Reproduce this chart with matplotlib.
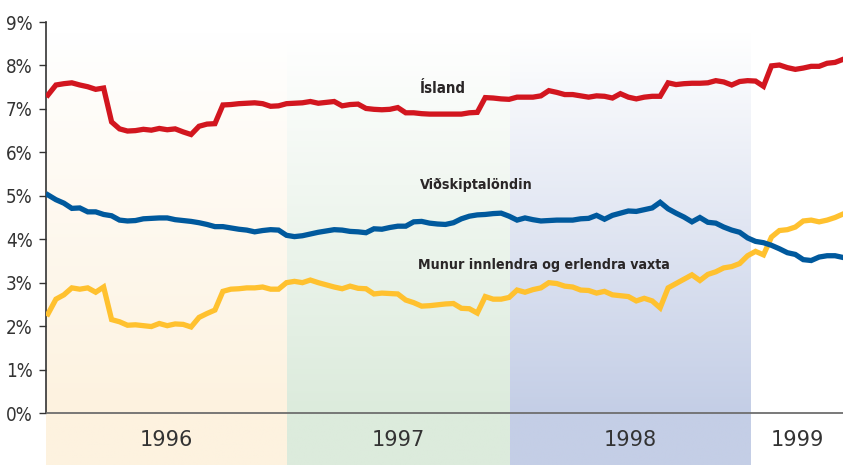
import numpy as np
import matplotlib
matplotlib.use("Agg")
import matplotlib.pyplot as plt
from matplotlib import font_manager as fm
from matplotlib.colors import to_rgb

# ---------------- data (weekly-ish samples, index 0..100) ----------------
island = [7.32, 7.55, 7.58, 7.60, 7.55, 7.51, 7.45, 7.48, 6.70, 6.54,
          6.49, 6.50, 6.53, 6.51, 6.55, 6.52, 6.54, 6.47, 6.41, 6.60,
          6.65, 6.66, 7.09, 7.10, 7.12, 7.13, 7.14, 7.12, 7.06, 7.07,
          7.12, 7.13, 7.14, 7.17, 7.13, 7.15, 7.17, 7.07, 7.10, 7.11,
          7.01, 6.99, 6.98, 6.99, 7.03, 6.91, 6.91, 6.89, 6.88, 6.88,
          6.88, 6.88, 6.88, 6.91, 6.92, 7.26, 7.25, 7.23, 7.22, 7.27,
          7.27, 7.27, 7.30, 7.42, 7.38, 7.33, 7.33, 7.30, 7.27, 7.30,
          7.29, 7.25, 7.35, 7.27, 7.23, 7.27, 7.29, 7.29, 7.60, 7.56,
          7.58, 7.59, 7.59, 7.60, 7.65, 7.62, 7.55, 7.63, 7.65, 7.64,
          7.52, 7.99, 8.01, 7.95, 7.91, 7.94, 7.98, 7.98, 8.05, 8.07,
          8.14]

vidskiptalond = [5.02, 4.91, 4.83, 4.71, 4.72, 4.63, 4.63, 4.57, 4.54, 4.44,
                 4.42, 4.43, 4.47, 4.48, 4.49, 4.49, 4.45, 4.43, 4.41, 4.38,
                 4.34, 4.29, 4.29, 4.26, 4.23, 4.21, 4.17, 4.20, 4.22, 4.21,
                 4.09, 4.06, 4.08, 4.12, 4.16, 4.19, 4.22, 4.21, 4.18, 4.17,
                 4.15, 4.24, 4.23, 4.27, 4.30, 4.30, 4.40, 4.41, 4.37, 4.35,
                 4.34, 4.38, 4.47, 4.53, 4.56, 4.57, 4.59, 4.60, 4.53, 4.44,
                 4.49, 4.45, 4.42, 4.43, 4.44, 4.44, 4.44, 4.47, 4.48, 4.55,
                 4.46, 4.55, 4.60, 4.65, 4.64, 4.68, 4.72, 4.85, 4.70, 4.60,
                 4.51, 4.40, 4.50, 4.39, 4.37, 4.28, 4.21, 4.16, 4.03, 3.95,
                 3.92, 3.86, 3.78, 3.69, 3.65, 3.53, 3.51, 3.59, 3.62, 3.62,
                 3.58]

munur = [2.28, 2.62, 2.72, 2.88, 2.85, 2.88, 2.78, 2.90, 2.15, 2.10,
         2.02, 2.03, 2.01, 1.99, 2.06, 2.01, 2.05, 2.04, 1.98, 2.20,
         2.29, 2.37, 2.80, 2.85, 2.86, 2.88, 2.88, 2.90, 2.85, 2.85,
         3.00, 3.03, 3.00, 3.06, 3.00, 2.95, 2.90, 2.86, 2.92, 2.87,
         2.86, 2.74, 2.76, 2.75, 2.74, 2.60, 2.54, 2.46, 2.47, 2.49,
         2.51, 2.52, 2.41, 2.40, 2.30, 2.68, 2.62, 2.62, 2.66, 2.83,
         2.78, 2.84, 2.88, 3.00, 2.98, 2.92, 2.90, 2.83, 2.82, 2.76,
         2.80, 2.72, 2.70, 2.68, 2.58, 2.64, 2.58, 2.42, 2.88, 2.98,
         3.08, 3.18, 3.05, 3.19, 3.25, 3.34, 3.37, 3.44, 3.62, 3.72,
         3.64, 4.05, 4.20, 4.22, 4.28, 4.42, 4.44, 4.40, 4.44, 4.50,
         4.58]

years = ["1996", "1997", "1998", "1999"]
year_edges = [-0.25, 30.06, 58.11, 88.43, 100.0]   # sample-index positions of year starts
yticks = [0, 1, 2, 3, 4, 5, 6, 7, 8, 9]
ytick_labels = [f"{v}%" for v in yticks]
series_labels = ["Ísland", "Viðskiptalöndin", "Munur innlendra og erlendra vaxta"]

# ---------------- styling ----------------
band_colors = ["#FDF2DF", "#DCEBDC", "#C4CEE6", "#FFFFFF"]
red, blue, yellow = "#D2161F", "#00599D", "#FFC12F"
text_dark = "#2A2627"

cond = fm.FontProperties(family="DejaVu Sans", stretch="condensed", weight="bold")
cond_reg = fm.FontProperties(family="DejaVu Sans", stretch="condensed", weight="normal")
year_font = "DejaVu Sans"

W, H = 843, 465
fig = plt.figure(figsize=(W / 100, H / 100), dpi=100)
ax_left_px, ax_top_px, zero_px = 46, 22, 413
ax = fig.add_axes([ax_left_px / W, 0, 1 - ax_left_px / W, 1 - ax_top_px / H])

px_per_unit = (zero_px - ax_top_px) / 9.0
ybottom = -(H - zero_px) / px_per_unit
ax.set_ylim(ybottom, 9)
ax.set_xlim(year_edges[0], year_edges[-1])

# gradient year bands
band_top = (zero_px - 32) / px_per_unit
n = 200
ys = np.linspace(band_top, ybottom, n)
for i, c in enumerate(band_colors):
    rgb = np.array(to_rgb(c))
    t = np.clip((band_top - ys) / band_top, 0, 1)[:, None]
    grad = (1 - t) * np.array([1, 1, 1]) + t * rgb
    img = grad[:, None, :]
    ax.imshow(img, extent=[year_edges[i], year_edges[i + 1], ybottom, band_top],
              aspect="auto", interpolation="bilinear", zorder=0)
    ax.text((year_edges[i] + year_edges[i + 1]) / 2, ybottom / 2 - 0.03, years[i],
            ha="center", va="center", fontsize=15, color="#333333",
            family=year_font, zorder=5)

x = np.arange(len(island))
lw = 3.8
ax.plot(x, munur, color=yellow, lw=lw, solid_joinstyle="miter", zorder=3)
ax.plot(x, vidskiptalond, color=blue, lw=lw, solid_joinstyle="miter", zorder=3)
ax.plot(x, island, color=red, lw=lw, solid_joinstyle="miter", zorder=3)

# axis line at zero
ax.axhline(0, color="#6E6E6E", lw=1.3, zorder=4)

# spines and ticks
for s in ["top", "right", "bottom"]:
    ax.spines[s].set_visible(False)
ax.spines["left"].set_bounds(0, 9)
ax.spines["left"].set_color("#333333")
ax.spines["left"].set_linewidth(1.2)
ax.set_yticks(yticks)
ax.set_yticklabels(ytick_labels)
ax.tick_params(axis="y", direction="out", length=5, width=1.0, color="#333333",
               pad=4.5, labelsize=13, labelcolor="#333333")
for lab in ax.get_yticklabels():
    lab.set_fontproperties(cond_reg)
    lab.set_fontsize(13.5)
ax.set_xticks([])

# series labels, positioned in pixel space
def px_to_data(px, py):
    inv = ax.transData.inverted()
    return inv.transform((px, H - py))

label_specs = [(series_labels[0], 420, 88, 46),
               (series_labels[1], 420, 185, 112),
               (series_labels[2], 418, 265, 250)]
fig.canvas.draw()
renderer = fig.canvas.get_renderer()
for txt, px, py, target_w in label_specs:
    dx, dy = px_to_data(px, py)
    t = ax.text(dx, dy, txt, ha="left", va="center", fontproperties=cond,
                color=text_dark, zorder=6)
    t.set_fontsize(12)
    w = t.get_window_extent(renderer).width
    t.set_fontsize(12 * target_w / w)

fig.savefig("out.png", dpi=100)
